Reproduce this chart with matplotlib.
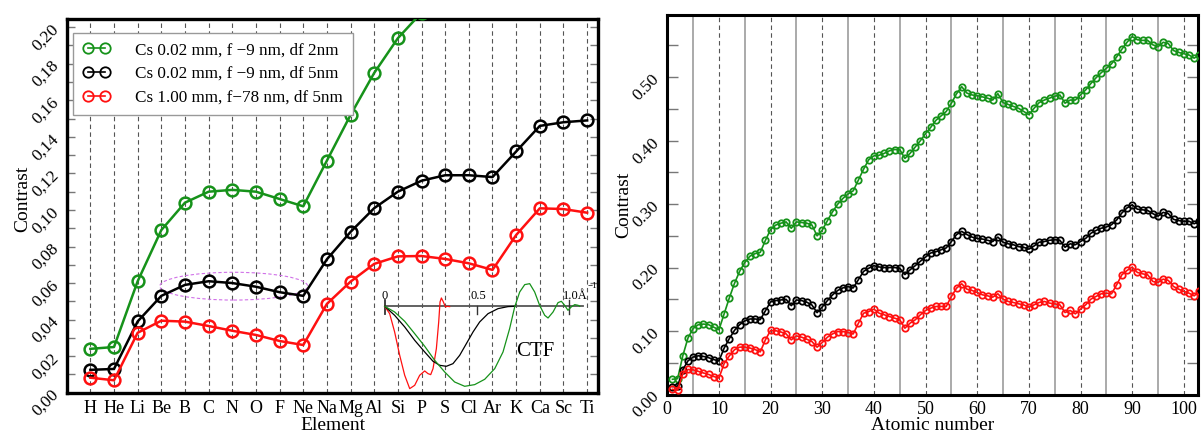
import numpy as np
import matplotlib
matplotlib.use("Agg")
import matplotlib.pyplot as plt
from matplotlib.patches import Ellipse
from matplotlib.ticker import MultipleLocator, FixedLocator

plt.rcParams['font.family'] = ['Liberation Serif', 'DejaVu Serif']

W, H = 1201, 434

# ---------------- data ----------------
elements = ["H", "He", "Li", "Be", "B", "C", "N", "O", "F", "Ne", "Na", "Mg",
            "Al", "Si", "P", "S", "Cl", "Ar", "K", "Ca", "Sc", "Ti"]

atomic_number = list(range(1, 104))

contrast_cs002_df2 = [
    0.024, 0.025, 0.061, 0.089, 0.104, 0.110, 0.111, 0.110, 0.106, 0.102,
    0.127, 0.152, 0.175, 0.194, 0.208, 0.218, 0.222, 0.224, 0.243, 0.260,
    0.267, 0.270, 0.272, 0.262, 0.272, 0.271, 0.270, 0.267, 0.250, 0.259,
    0.274, 0.288, 0.300, 0.309, 0.316, 0.321, 0.338, 0.355, 0.370, 0.376,
    0.377, 0.380, 0.384, 0.386, 0.386, 0.372, 0.380, 0.390, 0.400, 0.411,
    0.421, 0.432, 0.439, 0.446, 0.459, 0.474, 0.485, 0.475, 0.472, 0.471,
    0.469, 0.467, 0.464, 0.474, 0.460, 0.457, 0.454, 0.451, 0.446, 0.441,
    0.451, 0.460, 0.464, 0.467, 0.470, 0.472, 0.459, 0.464, 0.464, 0.472,
    0.480, 0.490, 0.499, 0.507, 0.514, 0.521, 0.532, 0.544, 0.555, 0.564,
    0.559, 0.558, 0.558, 0.551, 0.548, 0.555, 0.553, 0.542, 0.539, 0.537,
    0.535, 0.530, 0.535]

contrast_cs002_df5 = [
    0.0125, 0.013, 0.039, 0.053, 0.059, 0.061, 0.060, 0.058, 0.055, 0.053,
    0.073, 0.088, 0.101, 0.110, 0.116, 0.119, 0.119, 0.118, 0.132, 0.146,
    0.148, 0.149, 0.150, 0.140, 0.149, 0.148, 0.1455, 0.141, 0.129, 0.138,
    0.148, 0.157, 0.164, 0.168, 0.170, 0.168, 0.181, 0.194, 0.199, 0.203,
    0.201, 0.200, 0.200, 0.200, 0.199, 0.189, 0.1965, 0.203, 0.210, 0.2165,
    0.223, 0.225, 0.228, 0.231, 0.241, 0.252, 0.257, 0.252, 0.248, 0.246,
    0.245, 0.243, 0.241, 0.248, 0.240, 0.2375, 0.236, 0.233, 0.232, 0.229,
    0.234, 0.240, 0.241, 0.243, 0.244, 0.243, 0.232, 0.2375, 0.236, 0.241,
    0.246, 0.254, 0.2585, 0.262, 0.264, 0.2675, 0.275, 0.286, 0.294, 0.299,
    0.292, 0.291, 0.290, 0.285, 0.281, 0.287, 0.285, 0.276, 0.274, 0.273,
    0.273, 0.269, 0.273]

contrast_cs100_df5 = [
    0.0082, 0.0068, 0.0328, 0.0394, 0.0389, 0.0365, 0.0339, 0.0316, 0.0283, 0.0261,
    0.0486, 0.0608, 0.0705, 0.0746, 0.0748, 0.0732, 0.0708, 0.0672, 0.0863, 0.1009,
    0.1005, 0.0985, 0.0955, 0.0861, 0.0924, 0.0903, 0.0871, 0.0834, 0.0745, 0.0819,
    0.0903, 0.0955, 0.0992, 0.0992, 0.0976, 0.0955, 0.1123, 0.1281, 0.1307, 0.1345,
    0.1282, 0.1256, 0.1229, 0.1203, 0.1177, 0.1045, 0.1124, 0.1177, 0.1256, 0.1324,
    0.1361, 0.1387, 0.1387, 0.1387, 0.1545, 0.1676, 0.1744, 0.1660, 0.1639, 0.1608,
    0.1571, 0.1555, 0.1534, 0.1587, 0.1503, 0.1466, 0.1450, 0.1429, 0.1413, 0.1376,
    0.1413, 0.1450, 0.1466, 0.1440, 0.1429, 0.1413, 0.1292, 0.1324, 0.1271, 0.1345,
    0.1413, 0.1502, 0.1545, 0.1587, 0.1597, 0.1587, 0.1729, 0.1886, 0.1954, 0.2007,
    0.1923, 0.1902, 0.1886, 0.1781, 0.1765, 0.1818, 0.1797, 0.1702, 0.1660, 0.1624,
    0.1597, 0.1555, 0.1624]

series_labels = ["Cs 0.02 mm, f \u22129 nm, df 2nm",
                 "Cs 0.02 mm, f \u22129 nm, df 5nm",
                 "Cs 1.00 mm, f\u221278 nm, df 5nm"]

left_yticks = [0.00, 0.02, 0.04, 0.06, 0.08, 0.10, 0.12, 0.14, 0.16, 0.18, 0.20]
left_yticklabels = ["0,00", "0,02", "0,04", "0,06", "0,08", "0,10",
                    "0,12", "0,14", "0,16", "0,18", "0,20"]
right_yticks = [0.0, 0.1, 0.2, 0.3, 0.4, 0.5]
right_yticklabels = ["0.00", "0.10", "0.20", "0.30", "0.40", "0.50"]
right_xticks = [0, 10, 20, 30, 40, 50, 60, 70, 80, 90, 100]

# CTF curves of the inset (spatial frequency in 1/Angstrom, relative amplitude)
ctf_q_red = [0, 0.027, 0.054, 0.0815, 0.1087, 0.1359, 0.163, 0.190, 0.2174, 0.2355,
             0.25, 0.2627, 0.2808, 0.2935, 0.3007, 0.308, 0.319, 0.33, 0.34, 0.353]
ctf_a_red = [0, -0.092, -0.321, -0.6125, -0.8625, -1.029, -0.9875, -0.8625, -0.808, -0.842,
             -0.854, -0.779, -0.529, -0.196, 0.054, 0.104, 0.054, -0.008, 0.0, -0.004]
ctf_q_black = [0, 0.054, 0.1087, 0.163, 0.2174, 0.2627, 0.299, 0.335, 0.371, 0.4076,
               0.4438, 0.48, 0.516, 0.5616, 0.616, 0.670, 0.7065]
ctf_a_black = [0, -0.1125, -0.258, -0.425, -0.571, -0.6875, -0.7375, -0.75, -0.717, -0.6125,
               -0.467, -0.321, -0.196, -0.092, -0.029, -0.004, 0]
ctf_q_green = [0, 0.054, 0.1087, 0.163, 0.2174, 0.2717, 0.326, 0.380, 0.4348, 0.489,
               0.5435, 0.598, 0.643, 0.679, 0.7065, 0.7337, 0.761, 0.788, 0.815, 0.842,
               0.8696, 0.8877, 0.915, 0.942, 0.960, 0.978, 0.996, 1.014, 1.033, 1.051, 1.06]
ctf_a_green = [0, -0.071, -0.1875, -0.342, -0.5, -0.675, -0.821, -0.946, -1.0, -0.979,
               -0.9125, -0.779, -0.571, -0.279, -0.008, 0.179, 0.271, 0.283, 0.179, 0.0125,
               -0.1125, -0.146, -0.071, 0.046, 0.0625, 0.0125, -0.05, -0.008, 0.021, 0.0125, 0]

GREEN = '#16921a'
BLACK = '#000000'
RED = '#ff1010'
colors = [GREEN, BLACK, RED]
series = [contrast_cs002_df2, contrast_cs002_df5, contrast_cs100_df5]

fig = plt.figure(figsize=(W / 100, H / 100), dpi=100)

# ---------------- left panel: light elements ----------------
axL = fig.add_axes([66.7 / W, 1 - 392.7 / H, 531.3 / W, 373.7 / H])
nL = len(elements)
zL = atomic_number[:nL]
for vals, c, lab in zip(series, colors, series_labels):
    axL.plot(zL, vals[:nL], '-o', color=c, lw=1.8, ms=8.5, mfc='none',
             mew=1.8, label=lab, zorder=3)

axL.set_xlim(0, 22.46)
axL.set_ylim(0, 0.2045)
axL.set_xticks(zL)
axL.set_xticklabels(elements, fontsize=13)
axL.set_yticks(left_yticks)
axL.set_yticklabels(left_yticklabels, rotation=45, fontsize=12.5)
axL.yaxis.set_minor_locator(MultipleLocator(0.01))
axL.tick_params(axis='x', length=0, pad=5)
axL.tick_params(axis='y', which='both', direction='in', left=True, right=True,
                length=6, width=1, color='#777777')
axL.grid(axis='x', color='#555555', lw=0.8, ls=(0, (4, 3)), zorder=0)
for s in axL.spines.values():
    s.set_linewidth(2.4)
axL.set_xlabel("Element", fontsize=14)
axL.xaxis.set_label_coords(0.502, -0.066)
axL.set_ylabel("Contrast", fontsize=14)
axL.yaxis.set_label_coords(-0.067, 0.52)

axL.add_patch(Ellipse((7.06, 0.0583), 6.25, 0.0152, fill=False,
                      ec='#d070e8', ls=(0, (3, 2)), lw=0.8, zorder=2))

leg = axL.legend(loc='upper left', bbox_to_anchor=(0.012, 0.963), borderaxespad=0,
                 numpoints=2, handlelength=1.6, handletextpad=1.5, labelspacing=0.45,
                 fontsize=12.3, fancybox=False, framealpha=1, borderpad=0.55)
leg.get_frame().set_edgecolor('#999999')
leg.get_frame().set_linewidth(1.0)
for h in leg.legend_handles:
    h.set_markersize(7.5)
    h.set_linewidth(1.2)
    h.set_markeredgewidth(1.3)

# ---------------- CTF inset ----------------
ins = fig.add_axes([375.5 / W, 1 - 398.3 / H, 220.8 / W, 128 / H])
ins.set_xlim(-0.05, 1.15)
ins.set_ylim(-1.15, 0.45)
ins.axis('off')
ins.patch.set_alpha(0)
ins.plot([0, 1.078], [0, 0], color='#555555', lw=1.3)
ins.plot([0, 0], [0.075, -0.092], color='#333333', lw=1.3)
ins.plot([0.5, 0.5], [0, -0.092], color='#333333', lw=1.0)
ins.plot([1.0, 1.0], [0.075, -0.092], color='#333333', lw=1.0)
ins.plot(ctf_q_red, ctf_a_red, color=RED, lw=0.9)
ins.plot(ctf_q_black, ctf_a_black, color=BLACK, lw=0.9)
ins.plot(ctf_q_green, ctf_a_green, color=GREEN, lw=0.9)
ins.text(0, 0.13, "0", ha='center', va='center', fontsize=9)
ins.text(0.507, 0.13, "0.5", ha='center', va='center', fontsize=9)
ins.text(1.035, 0.13, "1.0\u00c5", ha='center', va='center', fontsize=9)
ins.text(1.13, 0.25, "\u22121", ha='center', va='center', fontsize=6.5)
ins.text(0.82, -0.56, "CTF", ha='center', va='center', fontsize=15)

# ---------------- right panel: all elements ----------------
axR = fig.add_axes([667.3 / W, 1 - 394.5 / H, 531 / W, 379.5 / H])
for vals, c in zip(series, colors):
    axR.plot(atomic_number, vals, '-o', color=c, lw=1.2, ms=4.6, mfc='none',
             mew=1.3, zorder=3)
axR.set_xlim(0, 102.8)
axR.set_ylim(0, 0.598)
axR.set_xticks(right_xticks)
axR.set_xticklabels([str(v) for v in right_xticks], fontsize=13)
axR.xaxis.set_minor_locator(FixedLocator([5, 15, 25, 35, 45, 55, 65, 75, 85, 95]))
axR.set_yticks(right_yticks)
axR.set_yticklabels(right_yticklabels, rotation=45, fontsize=12.5)
axR.yaxis.set_minor_locator(MultipleLocator(0.05))
axR.tick_params(axis='x', which='both', length=0, pad=5)
axR.tick_params(axis='y', which='both', direction='in', left=True, right=True,
                length=8, width=1, color='#777777')
axR.grid(axis='x', which='major', color='#555555', lw=0.8, ls=(0, (4, 3)), zorder=0)
axR.grid(axis='x', which='minor', color='#aaaaaa', lw=1.4, ls='-', zorder=0)
for s in axR.spines.values():
    s.set_linewidth(2.2)
axR.set_xlabel("Atomic number", fontsize=14)
axR.xaxis.set_label_coords(0.5, -0.059)
axR.set_ylabel("Contrast", fontsize=14)
axR.yaxis.set_label_coords(-0.066, 0.5)

fig.savefig("out.png", dpi=100)
